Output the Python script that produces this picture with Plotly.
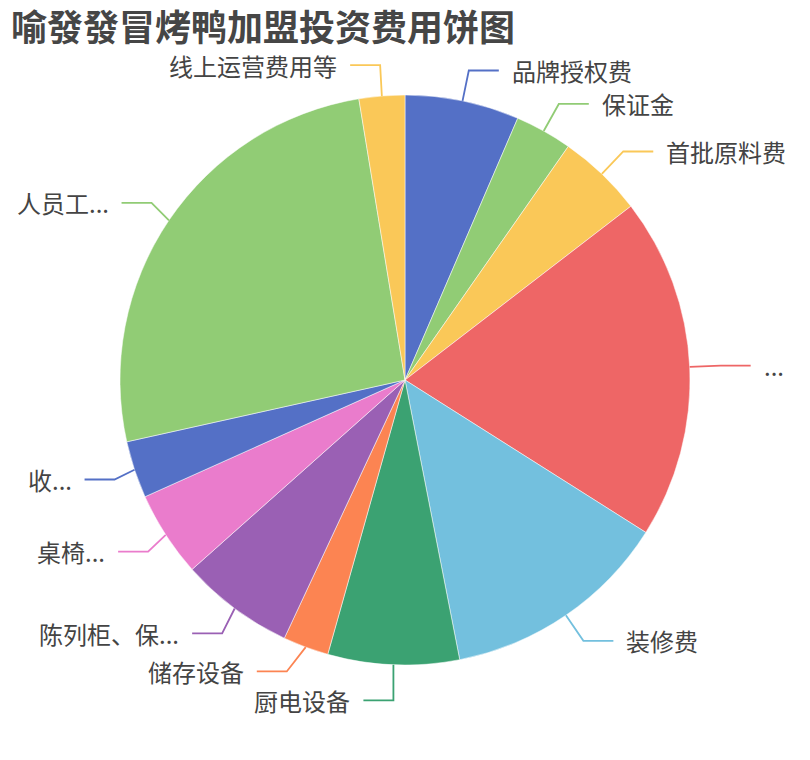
import math
import plotly.graph_objects as go

# 投资费用（万元），按饼图顺时针顺序
labels = ["品牌授权费", "保证金", "首批原料费", "...", "装修费", "厨电设备",
          "储存设备", "陈列柜、保...", "桌椅...", "收...", "人员工...", "线上运营费用等"]
values = [2.0, 1.0, 1.5, 6.0, 4.0, 2.3, 0.8, 2.0, 1.5, 1.0, 8.0, 0.8]
colors = ["#5470c6", "#91cc75", "#fac858", "#ee6666", "#73c0de", "#3ba272",
          "#fc8452", "#9a60b4", "#ea7ccc", "#5470c6", "#91cc75", "#fac858"]

title = "喻發發冒烤鸭加盟投资费用饼图"

W, H = 810, 760
cx, cy, R = 405, 380, 285   # 饼图中心和半径（像素）
len1, len2, gap = 31, 30, 11  # 引导线长度
rA = {1: 316, -1: 306}        # 标签椭圆水平半径（左右两侧）
min_dy = 29                   # 同侧标签最小间距


def px(x, y):
    return x / W, 1 - y / H


fig = go.Figure(go.Pie(
    labels=labels,
    values=values,
    marker=dict(colors=colors, line=dict(color="white", width=0.5)),
    sort=False,
    direction="clockwise",
    rotation=0,
    textinfo="none",
    showlegend=False,
    domain=dict(x=[(cx - R) / W, (cx + R) / W], y=[1 - (cy + R) / H, 1 - (cy - R) / H]),
))

# 计算每个扇区的标签位置
total = sum(values)
items = []
acc = 0
for lab, v, c in zip(labels, values, colors):
    mid = (acc + v / 2) / total * 2 * math.pi
    acc += v
    s, co = math.sin(mid), math.cos(mid)
    items.append(dict(lab=lab, c=c, side=1 if s >= 0 else -1,
                      x1=cx + R * s, y1=cy - R * co,
                      y=cy - (R + len1) * co))

# 同侧标签避让
for side in (1, -1):
    grp = sorted([it for it in items if it["side"] == side], key=lambda it: it["y"])
    for _ in range(20):
        for a, b in zip(grp, grp[1:]):
            d = b["y"] - a["y"]
            if d < min_dy:
                a["y"] -= (min_dy - d) / 2
                b["y"] += (min_dy - d) / 2

shapes, annotations = [], []
Rl = R + len1
for it in items:
    side = it["side"]
    dy = it["y"] - cy
    x2 = cx + side * rA[side] * math.sqrt(max(0.0, 1 - dy * dy / (Rl * Rl)))
    x2 = max(x2, it["x1"]) if side > 0 else min(x2, it["x1"])
    x3 = x2 + side * len2
    pts = [px(it["x1"], it["y1"]), px(x2, it["y"]), px(x3, it["y"])]
    path = "M {} {} L {} {} L {} {}".format(*[q for p in pts for q in p])
    shapes.append(dict(type="path", path=path, xref="paper", yref="paper",
                       line=dict(color=it["c"], width=1.8)))
    tx, ty = px(x3 + side * gap, it["y"])
    annotations.append(dict(x=tx, y=ty, xref="paper", yref="paper", text=it["lab"],
                            showarrow=False, xanchor="left" if side > 0 else "right",
                            yanchor="middle", font=dict(size=24, color="#444444")))

tx, ty = px(9, 25)
annotations.append(dict(x=tx, y=ty, xref="paper", yref="paper", text=title,
                        showarrow=False, xanchor="left", yanchor="middle",
                        font=dict(size=36, color="#464646", weight=700)))

fig.update_layout(
    width=W, height=H,
    margin=dict(l=0, r=0, t=0, b=0),
    paper_bgcolor="white",
    font=dict(family="Noto Sans CJK SC, sans-serif"),
    shapes=shapes,
    annotations=annotations,
)

fig.write_html("out.html", config={"displayModeBar": False},
               post_script="document.body.style.margin='0px';")
